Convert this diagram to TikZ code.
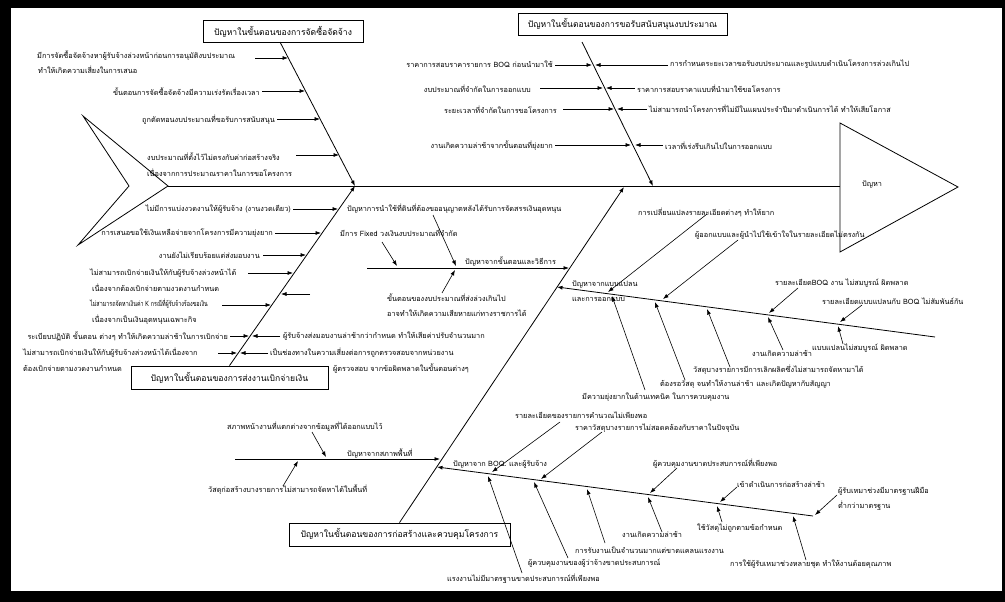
\documentclass[tikz,border=0pt]{standalone}
\usepackage{fontspec}
\newfontfamily\thai[Script=Thai]{Loma}
\newfontfamily\thainar[Script=Thai,FakeStretch=0.74]{Loma}
\usetikzlibrary{arrows.meta}
\newcommand\thtxt{\thai\fontsize{7.3}{14}\selectfont}
\newcommand\thnar{\thainar\fontsize{7.3}{14}\selectfont}
\newcommand\thbox{\thai\fontsize{8.6}{14}\selectfont}
\newcommand\mkarrow[3]{\coordinate (#1s) at (#2); \coordinate (#1e) at (#3); \draw[arr] (#1s) -- (#1e);}
\begin{document}
\begin{tikzpicture}[x=1pt,y=-1pt,
  arr/.style={-{Latex[length=5.5pt,width=4pt]}, line width=0.6pt},
  bone/.style={line width=0.8pt},
  lbl/.style={font=\thtxt, inner sep=0pt, anchor=west},
  lbr/.style={font=\thtxt, inner sep=0pt, anchor=east},
  boxn/.style={draw, line width=0.8pt, font=\thbox, inner sep=0pt, minimum height=22pt}]
\useasboundingbox (0,0) rectangle (1005,602);
\fill[black] (0,0) rectangle (1005,602);
\fill[white] (11,8) rectangle (1002,591);

% tail, spine, head
\coordinate (tt) at (83,116); \coordinate (tb) at (78,245);
\coordinate (ti) at (129,186); \coordinate (tv) at (168,186);
\draw[bone] (tt) -- (tv) -- (tb) -- (ti) -- cycle;
\coordinate (hb) at (840,186); \coordinate (ht) at (840,123);
\coordinate (hd) at (840,252); \coordinate (hp) at (958,187);
\draw[bone] (tv) -- (hb);
\draw[bone] (ht) -- (hp) -- (hd) -- cycle;
\node[lbl] (head) at (862,184) {ปัญหา};

% boxes
\node[boxn, minimum width=160pt] (box1) at (283,31.5) {ปัญหาในขั้นตอนของการจัดซื้อจัดจ้าง};
\node[boxn, minimum width=209pt] (box2) at (622.5,24) {ปัญหาในขั้นตอนของการขอรับสนับสนุนงบประมาณ};
\node[boxn, minimum width=197pt, minimum height=23pt] (box3) at (229.5,377.5) {ปัญหาในขั้นตอนของการส่งงานเบิกจ่ายเงิน};
\node[boxn, minimum width=221pt, minimum height=23pt] (box4) at (399.5,534.5) {ปัญหาในขั้นตอนของการก่อสร้างและควบคุมโครงการ};

% main bones
\coordinate (J1) at (355,186); \coordinate (J2) at (653,186); \coordinate (J3) at (624,187);
\coordinate (sTL) at (280,42); \coordinate (sTM) at (582,42);
\draw[arr,bone] (sTL) -- (J1);
\draw[arr,bone] (box3.north) -- (J1);
\draw[arr,bone] (sTM) -- (J2);
\draw[arr,bone] (box4.north) -- (J3);

% ---- top-left: procurement
\node[lbl] (a1) at (37,56) {มีการจัดซื้อจัดจ้างหาผู้รับจ้างล่วงหน้าก่อนการอนุมัติงบประมาณ};
\node[lbl] (a1b) at (38,70) {ทำให้เกิดความเสี่ยงในการเสนอ};
\node[lbr] (a2) at (260,92) {ขั้นตอนการจัดซื้อจัดจ้างมีความเร่งรัดเรื่องเวลา};
\node[lbr] (a3) at (275,120) {ถูกตัดทอนงบประมาณที่ขอรับการสนับสนุน};
\node[lbl] (a4) at (147,157) {งบประมาณที่ตั้งไว้ไม่ตรงกับค่าก่อสร้างจริง};
\node[lbl] (a4b) at (147,173) {เนื่องจากการประมาณราคาในการขอโครงการ};
\mkarrow{pa1}{255,58}{288,58}
\mkarrow{pa2}{262,91}{305,91}
\mkarrow{pa3}{277,119}{320,119}
\mkarrow{pa4}{296,155}{339,155}

% ---- top-middle: budget
\node[lbr] (b1) at (553,64) {ราคาการสอบราคารายการ BOQ ก่อนนำมาใช้};
\node[lbr] (b2) at (531,89) {งบประมาณที่จำกัดในการออกแบบ};
\node[lbr] (b3) at (557,110) {ระยะเวลาที่จำกัดในการขอโครงการ};
\node[lbr] (b4) at (553,146) {งานเกิดความล่าช้าจากขั้นตอนที่ยุ่งยาก};
\node[lbl] (b5) at (670,64) {การกำหนดระยะเวลาขอรับงบประมาณและรูปแบบดำเนินโครงการล่วงเกินไป};
\node[lbl] (b6) at (637,89) {ราคาการสอบราคาแบบที่นำมาใช้ขอโครงการ};
\node[lbl] (b7) at (649,109) {ไม่สามารถนำโครงการที่ไม่มีในแผนประจำปีมาดำเนินการได้ ทำให้เสียโอกาส};
\node[lbl] (b8) at (665,146) {เวลาที่เร่งรีบเกินไปในการออกแบบ};
\mkarrow{pb1}{555,65}{592,65}
\mkarrow{pb2}{540,88}{603,88}
\mkarrow{pb3}{563,109}{614,109}
\mkarrow{pb4}{555,145}{631,145}
\mkarrow{pb5}{668,65}{595,65}
\mkarrow{pb6}{635,88}{606,88}
\mkarrow{pb7}{647,109}{617,109}
\mkarrow{pb8}{663,145}{635,145}

% ---- lower-left: payment
\node[lbr] (c1) at (291,209) {ไม่มีการแบ่งงวดงานให้ผู้รับจ้าง (งานงวดเดียว)};
\node[lbr] (c2) at (273,233) {การเสนอขอใช้เงินเหลือจ่ายจากโครงการมีความยุ่งยาก};
\node[lbr] (c3) at (260,255) {งานยังไม่เรียบร้อยแต่ส่งมอบงาน};
\node[lbl] (c4) at (90,273) {ไม่สามารถเบิกจ่ายเงินให้กับผู้รับจ้างล่วงหน้าได้};
\node[lbl] (c4b) at (92,288) {เนื่องจากต้องเบิกจ่ายตามงวดงานกำหนด};
\node[lbl, font=\thnar] (c5) at (90,304) {ไม่สามารถจัดหาเงินค่า K กรณีที่ผู้รับจ้างร้องขอเงิน};
\node[lbl] (c5b) at (92,320) {เนื่องจากเป็นเงินอุดหนุนเฉพาะกิจ};
\node[lbr] (c6) at (228,336) {ระเบียบปฏิบัติ ขั้นตอน ต่างๆ ทำให้เกิดความล่าช้าในการเบิกจ่าย};
\node[lbl] (c7) at (23,353) {ไม่สามารถเบิกจ่ายเงินให้กับผู้รับจ้างล่วงหน้าได้เนื่องจาก};
\node[lbl] (c7b) at (23,368) {ต้องเบิกจ่ายตามงวดงานกำหนด};
\node[lbl] (c8) at (283,336) {ผู้รับจ้างส่งมอบงานล่าช้ากว่ากำหนด ทำให้เสียค่าปรับจำนวนมาก};
\node[lbl] (c9) at (270,353) {เป็นช่องทางในความเสี่ยงต่อการถูกตรวจสอบจากหน่วยงาน};
\node[lbl] (c9b) at (333,369) {ผู้ตรวจสอบ จากข้อผิดพลาดในขั้นตอนต่างๆ};
\mkarrow{pc1}{293,209}{338,209}
\mkarrow{pc2}{275,233}{321,233}
\mkarrow{pc3}{263,255}{306,255}
\mkarrow{pc4}{248,273}{293,273}
\mkarrow{pc0}{310,294}{281,294}
\mkarrow{pc5}{222,305}{271,305}
\mkarrow{pc6}{230,336}{249,336}
\mkarrow{pc7}{218,353}{237,353}
\mkarrow{pc8}{280,336}{252,336}
\mkarrow{pc9}{268,353}{240,353}

% ---- procedure bone
\coordinate (mb0) at (367,268); \coordinate (mb1) at (569,268);
\draw[arr,bone] (mb0) -- (mb1);
\node[lbl] (m0) at (465,261) {ปัญหาจากขั้นตอนและวิธีการ};
\node[lbl] (m1) at (347,209) {ปัญหาการนำใช้ที่ดินที่ต้องขออนุญาตหลังได้รับการจัดสรรเงินอุดหนุน};
\node[lbl] (m2) at (340,233) {มีการ Fixed วงเงินงบประมาณที่จำกัด};
\node[lbl] (m3) at (387,298) {ขั้นตอนของงบประมาณที่ส่งล่วงเกินไป};
\node[lbl] (m3b) at (387,313) {อาจทำให้เกิดความเสียหายแก่ทางราชการได้};
\mkarrow{pm1}{433,215}{456,266}
\mkarrow{pm2}{382,242}{397,266}
\mkarrow{pm3}{442,293}{455,270}

% ---- design bone
\coordinate (d0) at (935,337); \coordinate (d1) at (557,287);
\draw[arr,bone] (d0) -- (d1);
\node[lbl] (dl) at (572,284) {ปัญหาจากแบบแปลน};
\node[lbl] (dlb) at (572,299) {และการออกแบบ};
\node[lbl] (d1t) at (638,212) {การเปลี่ยนแปลงรายละเอียดต่างๆ ทำให้ยาก};
\node[lbl] (d2t) at (695,235) {ผู้ออกแบบและผู้นำไปใช้เข้าใจในรายละเอียดไม่ตรงกัน};
\node[lbl] (d3t) at (775,283) {รายละเอียดBOQ งาน ไม่สมบูรณ์ ผิดพลาด};
\node[lbl] (d4t) at (822,301) {รายละเอียดแบบแปลนกับ BOQ ไม่สัมพันธ์กัน};
\node[lbl] (d5t) at (812,348) {แบบแปลนไม่สมบูรณ์ ผิดพลาด};
\node[lbl] (d6t) at (752,353) {งานเกิดความล่าช้า};
\node[lbl] (d7t) at (693,370) {วัสดุบางรายการมีการเลิกผลิตซึ่งไม่สามารถจัดหามาได้};
\node[lbl] (d8t) at (660,384) {ต้องรอวัสดุ จนทำให้งานล่าช้า และเกิดปัญหากับสัญญา};
\node[lbl] (d9t) at (582,397) {มีความยุ่งยากในด้านเทคนิค ในการควบคุมงาน};
\mkarrow{pd1}{707,214}{608,292}
\mkarrow{pd2}{738,240}{663,299}
\mkarrow{pd3}{798,288}{769,313}
\mkarrow{pd4}{862,305}{840,322}
\mkarrow{pd5}{843,344}{838,326}
\mkarrow{pd6}{783,350}{768,317}
\mkarrow{pd7}{730,367}{707,309}
\mkarrow{pd8}{685,380}{655,302}
\mkarrow{pd9}{645,390}{612,296}

% ---- site bone
\coordinate (st0) at (235,459); \coordinate (st1) at (440,459);
\draw[arr,bone] (st0) -- (st1);
\node[lbl] (s0) at (347,453) {ปัญหาจากสภาพพื้นที่};
\node[lbl] (s1) at (227,427) {สภาพหน้างานที่แตกต่างจากข้อมูลที่ได้ออกแบบไว้};
\node[lbl] (s2) at (208,490) {วัสดุก่อสร้างบางรายการไม่สามารถจัดหาได้ในพื้นที่};
\mkarrow{ps1}{312,432}{326,457}
\mkarrow{ps2}{283,486}{298,461}

% ---- contractor bone
\coordinate (cb0) at (813,516); \coordinate (cb1) at (437,467);
\draw[arr,bone] (cb0) -- (cb1);
\node[lbl] (k0) at (453,464) {ปัญหาจาก BOQ. และผู้รับจ้าง};
\node[lbl] (k1) at (515,415) {รายละเอียดของรายการคำนวณไม่เพียงพอ};
\node[lbl] (k2) at (575,428) {ราคาวัสดุบางรายการไม่สอดคล้องกับราคาในปัจจุบัน};
\node[lbl] (k3) at (653,464) {ผู้ควบคุมงานขาดประสบการณ์ที่เพียงพอ};
\node[lbl] (k4) at (737,484) {เข้าดำเนินการก่อสร้างล่าช้า};
\node[lbl] (k5) at (838,491) {ผู้รับเหมาช่วงมีมาตรฐานฝีมือ};
\node[lbl] (k5b) at (838,506) {ต่ำกว่ามาตรฐาน};
\node[lbl] (k6) at (447,579) {แรงงานไม่มีมาตรฐานขาดประสบการณ์ที่เพียงพอ};
\node[lbl] (k7) at (528,563) {ผู้ควบคุมงานของผู้ว่าจ้างขาดประสบการณ์};
\node[lbl] (k8) at (575,550) {การรับงานเป็นจำนวนมากแต่ขาดแคลนแรงงาน};
\node[lbl] (k9) at (622,534) {งานเกิดความล่าช้า};
\node[lbl] (k10) at (697,528) {ใช้วัสดุไม่ถูกตามข้อกำหนด};
\node[lbl] (k11) at (730,564) {การใช้ผู้รับเหมาช่วงหลายชุด ทำให้งานด้อยคุณภาพ};
\mkarrow{pk1}{560,422}{492,472}
\mkarrow{pk2}{602,432}{541,479}
\mkarrow{pk3}{677,468}{650,493}
\mkarrow{pk4}{737,487}{720,502}
\mkarrow{pk5}{837,495}{815,515}
\mkarrow{pk6}{522,573}{488,476}
\mkarrow{pk7}{568,558}{534,482}
\mkarrow{pk8}{605,543}{587,489}
\mkarrow{pk9}{662,532}{648,497}
\mkarrow{pk10}{722,522}{717,506}
\mkarrow{pk11}{806,560}{793,516}
\end{tikzpicture}
\end{document}
